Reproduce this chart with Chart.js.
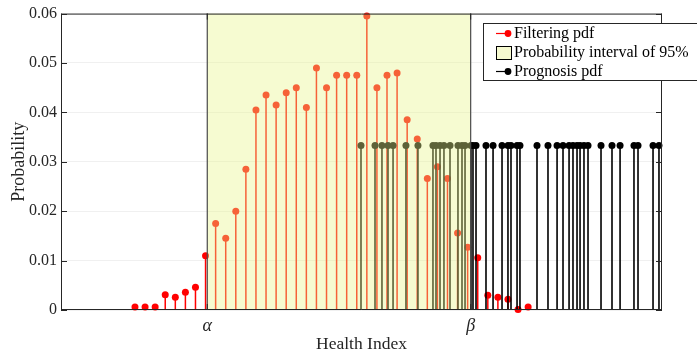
<!DOCTYPE html>
<html>
<head>
<meta charset="utf-8">
<script src="https://cdn.jsdelivr.net/npm/chart.js@4/dist/chart.umd.min.js"></script>
<style>
  html, body { margin: 0; padding: 0; background: #fff; }
  #wrap { width: 697px; height: 357px; }
</style>
</head>
<body>
<div id="wrap"><canvas id="c" width="697" height="357"></canvas></div>
<script>
// ---- data ----
const filteringX = [1,2,3,4,5,6,7,8,9,10,11,12,13,14,15,16,17,18,19,20,21,22,23,24,25,26,27,28,29,30,31,32,33,34,35,36,37,38,39,40];
const filteringP = [0.0006,0.0006,0.0006,0.0031,0.0026,0.0036,0.0046,0.0110,0.0175,0.0145,
                    0.0200,0.0285,0.0405,0.0435,0.0415,0.0440,0.0450,0.0410,0.0490,0.0450,
                    0.0475,0.0475,0.0475,0.0595,0.0450,0.0475,0.0480,0.0385,0.0346,0.0266,
                    0.0290,0.0266,0.0156,0.0127,0.0106,0.0030,0.0026,0.0022,0.0001,0.0006];
const prognosisX = [23.42,24.81,25.50,26.10,26.60,27.88,29.07,30.56,30.86,31.26,
                    31.65,32.25,33.04,33.44,33.74,34.33,34.53,34.83,35.82,36.52,
                    37.41,38.00,38.30,38.90,39.19,40.88,41.97,42.87,43.46,44.06,
                    44.45,44.85,45.15,45.54,45.94,47.23,48.32,49.12,50.50,50.90,
                    52.39,52.98];
const prognosisP = [0.0333,0.0333,0.0333,0.0333,0.0333,0.0333,0.0333,0.0333,0.0333,0.0333,
                    0.0333,0.0333,0.0333,0.0333,0.0333,0.0333,0.0333,0.0333,0.0333,0.0333,
                    0.0333,0.0333,0.0333,0.0333,0.0333,0.0333,0.0333,0.0333,0.0333,0.0333,
                    0.0333,0.0333,0.0333,0.0333,0.0333,0.0333,0.0333,0.0333,0.0333,0.0333,
                    0.0333,0.0333];
const intervalBounds = [8.17, 34.30];        // alpha, beta
const xTickLabels = ['α', 'β'];
const yTickValues = [0, 0.01, 0.02, 0.03, 0.04, 0.05, 0.06];
const yTickLabels = ['0', '0.01', '0.02', '0.03', '0.04', '0.05', '0.06'];
const seriesNames = ['Filtering pdf', 'Probability interval of 95%', 'Prognosis pdf'];
const xRange = [-6.34, 53.28];
const yRange = [0, 0.06];

const SERIF = '"Liberation Serif", "Times New Roman", serif';
const AXIS = '#262626';

function pts(xs, ys) { return xs.map((x, i) => ({ x: x, y: ys[i] })); }

const stemPlugin = {
  id: 'stems',
  beforeDatasetDraw(chart, args) {
    const ds = chart.data.datasets[args.index];
    const xs = chart.scales.x, ys = chart.scales.y;
    const ctx = chart.ctx;
    const y0 = ys.getPixelForValue(0);
    ctx.save();
    ctx.strokeStyle = ds.stemColor;
    ctx.lineWidth = ds.stemWidth;
    ctx.beginPath();
    ds.data.forEach(p => {
      const px = xs.getPixelForValue(p.x);
      ctx.moveTo(px, y0);
      ctx.lineTo(px, ys.getPixelForValue(p.y));
    });
    ctx.stroke();
    ctx.restore();
  },
  afterDatasetsDraw(chart) {
    const xs = chart.scales.x, ys = chart.scales.y;
    const ctx = chart.ctx;
    const a = chart.chartArea;
    const xa = xs.getPixelForValue(intervalBounds[0]);
    const xb = xs.getPixelForValue(intervalBounds[1]);
    const yt = ys.getPixelForValue(yRange[1]);
    const yb = ys.getPixelForValue(0);
    ctx.save();
    // translucent interval patch over the stems
    ctx.fillStyle = 'rgba(232,244,140,0.40)';
    ctx.fillRect(xa, yt, xb - xa, yb - yt);
    ctx.strokeStyle = '#4a4a4a';
    ctx.lineWidth = 1.2;
    ctx.beginPath();
    ctx.moveTo(xa, yt); ctx.lineTo(xa, yb);
    ctx.moveTo(xb, yt); ctx.lineTo(xb, yb);
    ctx.stroke();
    // axis box
    ctx.strokeStyle = AXIS;
    ctx.lineWidth = 1;
    ctx.beginPath();
    ctx.moveTo(a.left, a.top + 0.5); ctx.lineTo(a.right, a.top + 0.5);
    ctx.moveTo(a.right - 0.5, a.top); ctx.lineTo(a.right - 0.5, a.bottom);
    ctx.moveTo(a.left + 0.5, a.top); ctx.lineTo(a.left + 0.5, a.bottom);
    ctx.moveTo(a.left, a.bottom - 0.5); ctx.lineTo(a.right, a.bottom - 0.5);
    // inward ticks
    yTickValues.forEach(v => {
      const py = Math.round(ys.getPixelForValue(v)) + 0.5;
      ctx.moveTo(a.left, py); ctx.lineTo(a.left + 6, py);
      ctx.moveTo(a.right, py); ctx.lineTo(a.right - 6, py);
    });
    intervalBounds.forEach(v => {
      const px = xs.getPixelForValue(v);
      ctx.moveTo(px, a.bottom); ctx.lineTo(px, a.bottom - 6);
      ctx.moveTo(px, a.top); ctx.lineTo(px, a.top + 6);
    });
    ctx.stroke();
    ctx.restore();
  },
  afterDraw(chart) {
    const ctx = chart.ctx;
    const lx = 483, ly = 23, lw = 230, lh = 57;
    ctx.save();
    ctx.fillStyle = '#fff';
    ctx.fillRect(lx, ly, lw, lh);
    ctx.strokeStyle = AXIS;
    ctx.lineWidth = 1;
    ctx.strokeRect(lx + 0.5, ly + 0.5, lw, lh);
    const rows = [33.5, 53, 71.5];
    // filtering entry
    ctx.strokeStyle = '#ff0000'; ctx.lineWidth = 1.2;
    ctx.beginPath(); ctx.moveTo(496, rows[0]); ctx.lineTo(508, rows[0]); ctx.stroke();
    ctx.fillStyle = '#ff0000';
    ctx.beginPath(); ctx.arc(508, rows[0], 3.4, 0, Math.PI * 2); ctx.fill();
    // interval entry
    ctx.fillStyle = 'rgb(246,250,208)';
    ctx.fillRect(496.5, 46.5, 15, 13);
    ctx.strokeStyle = '#000'; ctx.lineWidth = 1;
    ctx.strokeRect(496.5, 46.5, 15, 13);
    // prognosis entry
    ctx.strokeStyle = '#000'; ctx.lineWidth = 1.2;
    ctx.beginPath(); ctx.moveTo(496, rows[2]); ctx.lineTo(508, rows[2]); ctx.stroke();
    ctx.fillStyle = '#000';
    ctx.beginPath(); ctx.arc(508, rows[2], 3.4, 0, Math.PI * 2); ctx.fill();
    // texts
    ctx.fillStyle = '#000';
    ctx.font = '16px ' + SERIF;
    ctx.textBaseline = 'middle';
    ctx.textAlign = 'left';
    seriesNames.forEach((t, i) => ctx.fillText(t, 514, rows[i]));
    ctx.restore();
  }
};

new Chart(document.getElementById('c'), {
  type: 'scatter',
  data: {
    datasets: [
      {
        label: seriesNames[0],
        data: pts(filteringX, filteringP),
        pointRadius: 3.5, pointHoverRadius: 3.5, pointBorderWidth: 0,
        pointBackgroundColor: '#ff0000', borderColor: '#ff0000',
        stemColor: '#ff0000', stemWidth: 1.5,
        showLine: false, clip: false, order: 2
      },
      {
        label: seriesNames[2],
        data: pts(prognosisX, prognosisP),
        pointRadius: 3.5, pointHoverRadius: 3.5, pointBorderWidth: 0,
        pointBackgroundColor: '#000000', borderColor: '#000000',
        stemColor: '#000000', stemWidth: 1.6,
        showLine: false, clip: false, order: 1
      }
    ]
  },
  options: {
    responsive: false,
    animation: false,
    devicePixelRatio: 1,
    layout: { padding: { left: 0, right: 35, top: 10, bottom: 0 } },
    plugins: { legend: { display: false }, tooltip: { enabled: false } },
    scales: {
      x: {
        type: 'linear',
        min: xRange[0], max: xRange[1],
        afterBuildTicks: (s) => { s.ticks = intervalBounds.map(v => ({ value: v })); },
        afterFit: (s) => { s.height = 47; },
        ticks: {
          autoSkip: false, maxRotation: 0, padding: 5,
          color: AXIS,
          font: { family: SERIF, size: 18, style: 'italic' },
          callback: (v, i) => xTickLabels[i]
        },
        grid: { display: false, drawTicks: false },
        border: { display: false },
        title: {
          display: true, text: 'Health Index', color: AXIS,
          font: { family: SERIF, size: 17.5 },
          padding: { top: 0, bottom: 2 }
        }
      },
      y: {
        min: yRange[0], max: yRange[1],
        afterBuildTicks: (s) => { s.ticks = yTickValues.map(v => ({ value: v })); },
        afterFit: (s) => { s.width = 61; },
        ticks: {
          padding: 4, color: AXIS,
          font: { family: SERIF, size: 16 },
          callback: (v, i) => yTickLabels[i]
        },
        grid: { color: '#f0f0f0', lineWidth: 1, drawTicks: false },
        border: { display: false },
        title: {
          display: true, text: 'Probability', color: AXIS,
          font: { family: SERIF, size: 18 },
          padding: { top: 8, bottom: 0 }
        }
      }
    }
  },
  plugins: [stemPlugin]
});
</script>
</body>
</html>
